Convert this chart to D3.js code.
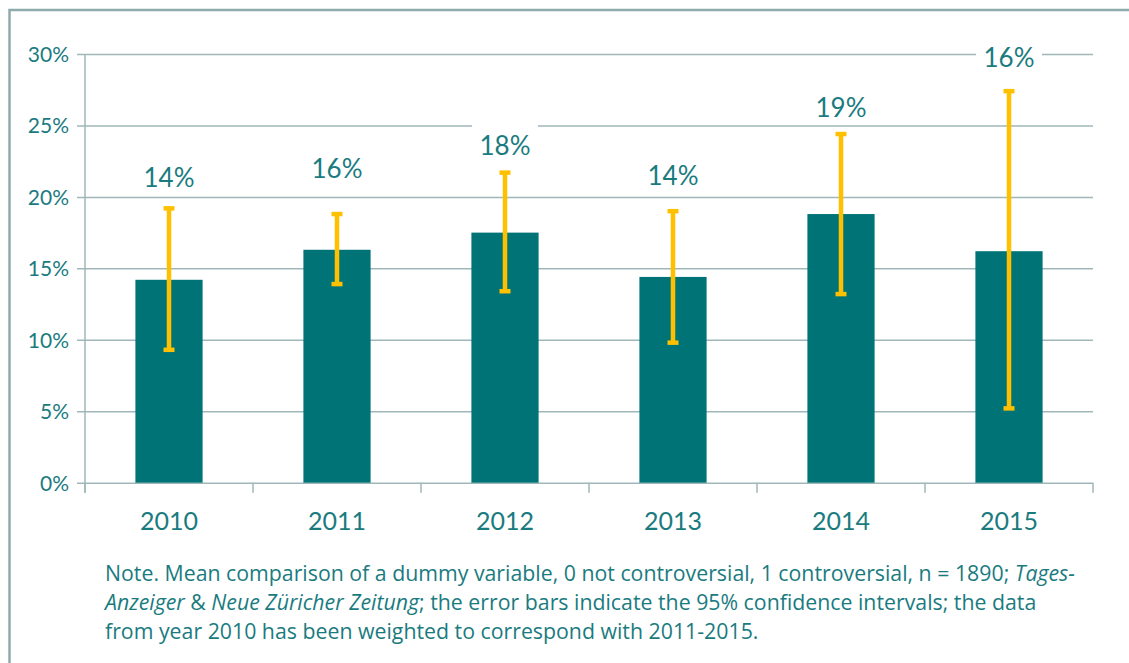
<!DOCTYPE html>
<html>
<head>
<meta charset="utf-8">
<script src="https://cdn.jsdelivr.net/npm/d3@7/dist/d3.min.js"></script>
<style>
  body { margin: 0; background: #fff; }
  text { font-family: Lato, "Open Sans", sans-serif; fill: #1a7b7f; }
</style>
</head>
<body>
<div id="main"></div>
<script>
var width = 1129;
var height = 663;
var plot = {t: 54, r: 1093, b: 482.7, l: 85};

// data
var years = ['2010', '2011', '2012', '2013', '2014', '2015'];
var means = [14.2, 16.3, 17.5, 14.4, 18.8, 16.2];
var ciLow = [9.3, 13.9, 13.4, 9.8, 13.2, 5.2];
var ciHigh = [19.2, 18.8, 21.7, 19.0, 24.4, 27.4];
var valueLabels = ['14%', '16%', '18%', '14%', '19%', '16%'];
// where each value label sits, in % on the y axis (baseline)
var labelAt = [20.7, 21.3, 22.95, 20.85, 25.6, 29.1];
var yTicks = [0, 5, 10, 15, 20, 25, 30];

var teal = '#007376';
var gold = '#ffc000';
var grid = '#9fb7b9';

var svg = d3.select('#main').append('svg')
    .attr('width', width)
    .attr('height', height);

// frame (top and left only)
svg.append('path')
    .attr('d', 'M9.5,' + height + 'V10H' + width)
    .attr('fill', 'none')
    .attr('stroke', '#8eaaac')
    .attr('stroke-width', 2.5);

var xScale = d3.scaleBand().domain(years).range([plot.l, plot.r]).padding(0);
var yScale = d3.scaleLinear().domain([0, 30]).range([plot.b, plot.t]);

// y gridlines + labels
var yAxis = d3.axisLeft(yScale)
    .tickValues(yTicks)
    .tickSize(-(plot.r - plot.l))
    .tickSizeOuter(0)
    .tickPadding(16)
    .tickFormat(function(d) { return d + '%'; });

var gy = svg.append('g')
    .attr('transform', 'translate(' + plot.l + ',0)')
    .call(yAxis);
gy.select('.domain').remove();
gy.selectAll('.tick line')
    .attr('x1', -8)
    .attr('stroke', grid)
    .attr('stroke-width', 1.5);
gy.selectAll('.tick text')
    .style('font-size', '21px')
    .attr('dy', '0.35em');

// y axis line
svg.append('line')
    .attr('x1', plot.l).attr('x2', plot.l)
    .attr('y1', plot.t).attr('y2', plot.b + 10)
    .attr('stroke', grid).attr('stroke-width', 1.5);

// category ticks at band edges
var edges = years.map(function(d) { return xScale(d); }).concat([plot.r]);
svg.selectAll('.xtick')
    .data(edges)
    .enter()
    .append('line')
    .attr('class', 'xtick')
    .attr('x1', function(d) { return d; })
    .attr('x2', function(d) { return d; })
    .attr('y1', plot.b)
    .attr('y2', plot.b + 10)
    .attr('stroke', grid).attr('stroke-width', 1.5);

svg.selectAll('.year')
    .data(years)
    .enter()
    .append('text')
    .attr('class', 'year')
    .attr('x', function(d) { return xScale(d) + xScale.bandwidth() / 2; })
    .attr('y', 530)
    .attr('text-anchor', 'middle')
    .style('font-size', '25px')
    .text(function(d) { return d; });

// bars
var barW = xScale.bandwidth() * 0.4;
svg.selectAll('.bar')
    .data(years)
    .enter()
    .append('rect')
    .attr('class', 'bar')
    .attr('x', function(d) { return xScale(d) + (xScale.bandwidth() - barW) / 2; })
    .attr('y', function(d, i) { return yScale(means[i]); })
    .attr('width', barW)
    .attr('height', function(d, i) { return plot.b - yScale(means[i]); })
    .attr('fill', teal);

// error bars
var cx = function(d) { return xScale(d) + xScale.bandwidth() / 2; };
var err = svg.selectAll('.err')
    .data(years)
    .enter()
    .append('g')
    .attr('class', 'err');
err.append('line')
    .attr('x1', cx).attr('x2', cx)
    .attr('y1', function(d, i) { return yScale(ciHigh[i]); })
    .attr('y2', function(d, i) { return yScale(ciLow[i]); })
    .attr('stroke', gold).attr('stroke-width', 4.5);
[ciHigh, ciLow].forEach(function(arr) {
    err.append('line')
        .attr('x1', function(d) { return cx(d) - 5.5; })
        .attr('x2', function(d) { return cx(d) + 5.5; })
        .attr('y1', function(d, i) { return yScale(arr[i]); })
        .attr('y2', function(d, i) { return yScale(arr[i]); })
        .attr('stroke', gold).attr('stroke-width', 4.5);
});

// value labels with white backgrounds
var lab = svg.selectAll('.lab')
    .data(years)
    .enter()
    .append('g')
    .attr('class', 'lab')
    .attr('transform', function(d, i) {
        return 'translate(' + cx(d) + ',' + yScale(labelAt[i]) + ')';
    });
lab.append('rect')
    .attr('x', -33).attr('y', -32)
    .attr('width', 66).attr('height', 38)
    .attr('fill', '#fff');
lab.append('text')
    .attr('text-anchor', 'middle')
    .style('font-size', '26px')
    .text(function(d, i) { return valueLabels[i]; });

// note
var note = svg.append('text')
    .attr('x', 105)
    .attr('y', 581)
    .style('font-family', '"Open Sans", sans-serif')
    .style('font-size', '21.3px');
var noteLines = [
    [['Note. Mean comparison of a dummy variable, 0 not controversial, 1 controversial, n = 1890; ', false], ['Tages-', true]],
    [['Anzeiger', true], [' & ', false], ['Neue Züricher Zeitung', true], ['; the error bars indicate the 95% confidence intervals; the data', false]],
    [['from year 2010 has been weighted to correspond with 2011-2015.', false]]
];
noteLines.forEach(function(parts, li) {
    parts.forEach(function(p, pi) {
        var ts = note.append('tspan')
            .style('font-style', p[1] ? 'italic' : 'normal')
            .text(p[0]);
        if (pi === 0) ts.attr('x', 105).attr('dy', li === 0 ? 0 : 29);
    });
});
</script>
</body>
</html>
